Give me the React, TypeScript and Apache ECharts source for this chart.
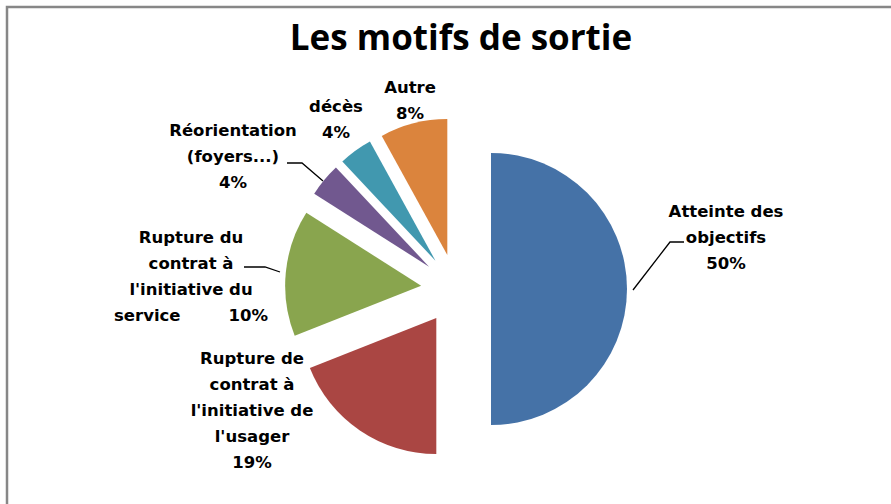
import React, { useEffect, useRef } from 'react';
import * as echarts from 'echarts';

const categories = [
  'Atteinte des objectifs',
  'Rupture de contrat à l\'initiative de l\'usager',
  'Rupture du contrat à l\'initiative du service',
  'Réorientation (foyers...)',
  'décès',
  'Autre',
];
const values = [50, 19, 15, 4, 4, 8];
const shownPercents = ['50%', '19%', '10%', '4%', '4%', '8%'];
const labelLines = [
  ['Atteinte des', 'objectifs'],
  ['Rupture de', 'contrat à', 'l\'initiative de', 'l\'usager'],
  ['Rupture du', 'contrat à', 'l\'initiative du'],
  ['Réorientation', '(foyers...)'],
  ['décès'],
  ['Autre'],
];
const colors = ['#4572A7', '#AA4643', '#89A54E', '#71588F', '#4198AF', '#DB843D'];

// layout of the data labels (centre of each text block)
const labelPos: [number, number][] = [
  [726, 237],
  [252, 410],
  [191, 276],
  [233, 156],
  [336, 119],
  [410, 100],
];
// leader lines (annotation only)
const leaderLines: [number, number][][] = [
  [[633, 290], [670, 242], [684, 242]],
  [],
  [[280, 272], [265, 267], [244, 267]],
  [[323, 181], [302, 163], [287, 163]],
  [],
  [],
];

const LABEL_FONT = '"DejaVu Sans", sans-serif';
const TITLE_FONT = '"Open Sans", sans-serif';
const LABEL_SIZE = 16.5;

export default function App() {
  const ref = useRef<HTMLDivElement>(null);
  useEffect(() => {
    if (!ref.current) return;
    const chart = echarts.init(ref.current, undefined, { renderer: 'svg' });

    const textEls: any[] = categories.map((_, i) => {
      let text: string;
      if (i === 2) {
        text =
          labelLines[i].map((l) => '{t|' + l + '}').join('\n') +
          '\n{t|service}{g| }{t|' + shownPercents[i] + '}';
      } else {
        text = labelLines[i].map((l) => '{t|' + l + '}').join('\n') + '\n{t|' + shownPercents[i] + '}';
      }
      return {
        type: 'text',
        x: labelPos[i][0],
        y: labelPos[i][1],
        silent: true,
        style: {
          text,
          align: 'center',
          verticalAlign: 'middle',
          fill: '#000',
          font: 'bold ' + LABEL_SIZE + 'px ' + LABEL_FONT,
          rich: {
            t: {
              fontFamily: LABEL_FONT,
              fontWeight: 'bold',
              fontSize: LABEL_SIZE,
              lineHeight: 26,
              fill: '#000',
              color: '#000',
            },
            g: { width: 48, lineHeight: 26, fontSize: LABEL_SIZE },
          },
        },
      };
    });

    const lineEls: any[] = leaderLines
      .filter((pts) => pts.length > 0)
      .map((pts) => ({
        type: 'polyline',
        silent: true,
        shape: { points: pts },
        style: { stroke: '#000', lineWidth: 1.3, fill: 'none' },
      }));

    chart.setOption({
      animation: false,
      backgroundColor: '#fff',
      title: {
        text: 'Les motifs de sortie',
        left: 456,
        textAlign: 'center',
        top: 14,
        textStyle: { fontFamily: TITLE_FONT, fontWeight: 'bold', fontSize: 35, color: '#000' },
      },
      graphic: [
        {
          type: 'rect',
          silent: true,
          shape: { x: 7, y: 7, width: 1000, height: 1000 },
          style: { fill: 'none', stroke: '#878787', lineWidth: 2.5 },
        },
        ...lineEls,
        ...textEls,
      ],
      series: [
        {
          type: 'pie',
          center: [456, 289],
          radius: 136,
          startAngle: 90,
          clockwise: true,
          selectedMode: 'multiple',
          selectedOffset: 35,
          avoidLabelOverlap: false,
          emphasis: { disabled: true },
          label: { show: false },
          labelLine: { show: false },
          data: categories.map((name, i) => ({
            name,
            value: values[i],
            selected: true,
            itemStyle: { color: colors[i] },
            select: { itemStyle: { color: colors[i] } },
          })),
        },
      ],
    });
    return () => chart.dispose();
  }, []);
  return (
    <div
      ref={ref}
      style={{ position: 'absolute', left: 0, top: 0, width: 891, height: 504 }}
    />
  );
}
